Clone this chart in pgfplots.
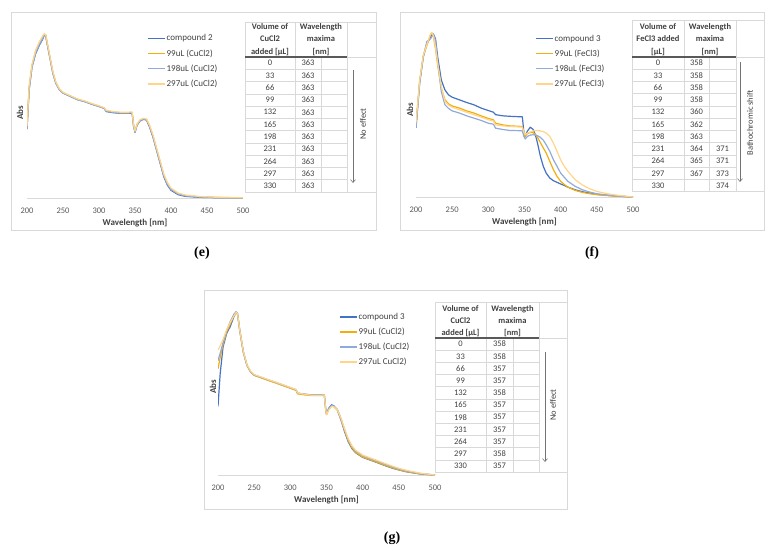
\documentclass[border=0pt]{standalone}
\usepackage{pgfplots}
\pgfplotsset{compat=1.18}
\usepackage{pgfplotstable}
\usepackage{fontspec}
\setmainfont{Carlito}
\newfontfamily\labfont{Liberation Serif}
\usetikzlibrary{arrows.meta}

\definecolor{cpd}{HTML}{4472C4}
\definecolor{ora}{HTML}{F2AE0C}
\definecolor{lblue}{HTML}{8FAADC}
\definecolor{lora}{HTML}{FFD58A}
\definecolor{gridc}{HTML}{D9D9D9}
\definecolor{txt}{HTML}{595959}
\definecolor{dtxt}{HTML}{404040}

% panel (e): compound 2 + CuCl2
\pgfplotstableread{
x    c0     c1     c2     c3
200  0.420  0.430  0.420  0.440
203  0.660  0.675  0.665  0.685
207  0.800  0.810  0.800  0.815
212  0.880  0.895  0.885  0.900
217  0.930  0.945  0.935  0.950
222  0.970  0.985  0.975  0.990
224  0.995  1.000  0.990  1.000
226  0.990  0.995  0.985  0.995
228  0.940  0.945  0.940  0.950
232  0.850  0.855  0.850  0.860
236  0.760  0.765  0.760  0.770
240  0.700  0.705  0.700  0.708
245  0.660  0.663  0.660  0.665
250  0.640  0.642  0.640  0.644
260  0.620  0.622  0.620  0.624
270  0.600  0.602  0.600  0.604
280  0.588  0.590  0.588  0.592
290  0.572  0.574  0.572  0.576
300  0.558  0.560  0.558  0.562
307  0.547  0.549  0.547  0.551
310  0.527  0.532  0.530  0.535
320  0.520  0.524  0.522  0.527
330  0.516  0.520  0.518  0.523
340  0.516  0.520  0.518  0.523
346  0.518  0.522  0.520  0.525
348  0.440  0.445  0.442  0.448
350  0.400  0.405  0.402  0.408
353  0.445  0.450  0.447  0.452
357  0.470  0.475  0.472  0.478
362  0.480  0.484  0.482  0.486
366  0.475  0.480  0.478  0.482
370  0.435  0.442  0.440  0.446
375  0.370  0.378  0.375  0.383
380  0.290  0.298  0.295  0.304
385  0.210  0.220  0.216  0.226
390  0.130  0.140  0.136  0.146
395  0.078  0.088  0.084  0.094
400  0.047  0.055  0.052  0.060
410  0.020  0.026  0.024  0.030
420  0.010  0.015  0.013  0.018
440  0.004  0.007  0.006  0.009
460  0.002  0.004  0.003  0.005
500  0.000  0.001  0.000  0.001
}\specE

% panel (f): compound 3 + FeCl3
\pgfplotstableread{
x    c0     c1     c2     c3
200  0.420  0.440  0.420  0.450
205  0.690  0.700  0.690  0.705
210  0.850  0.855  0.850  0.860
215  0.930  0.920  0.945  0.925
220  0.970  0.985  0.960  0.990
222  0.985  0.995  0.975  1.000
224  0.990  0.975  0.990  0.980
227  0.960  0.900  0.950  0.910
230  0.850  0.800  0.820  0.810
235  0.710  0.660  0.640  0.670
240  0.650  0.590  0.560  0.580
245  0.620  0.566  0.538  0.558
250  0.606  0.553  0.523  0.545
260  0.590  0.540  0.510  0.530
270  0.574  0.523  0.493  0.515
280  0.560  0.510  0.479  0.500
290  0.540  0.493  0.465  0.485
300  0.525  0.477  0.448  0.469
307  0.515  0.469  0.442  0.462
310  0.500  0.448  0.418  0.438
320  0.493  0.438  0.410  0.432
330  0.490  0.432  0.404  0.428
340  0.488  0.430  0.403  0.426
347  0.487  0.428  0.402  0.424
349  0.400  0.385  0.370  0.395
351  0.368  0.368  0.352  0.378
354  0.400  0.385  0.368  0.388
358  0.424  0.392  0.376  0.395
362  0.410  0.390  0.378  0.401
365  0.378  0.382  0.376  0.404
368  0.327  0.362  0.372  0.404
372  0.246  0.330  0.362  0.401
376  0.186  0.298  0.345  0.397
380  0.145  0.267  0.317  0.388
385  0.115  0.216  0.277  0.368
390  0.099  0.166  0.226  0.327
395  0.089  0.125  0.186  0.277
400  0.079  0.095  0.145  0.226
405  0.070  0.076  0.120  0.186
410  0.060  0.060  0.095  0.156
420  0.044  0.040  0.065  0.105
430  0.032  0.028  0.044  0.073
440  0.024  0.020  0.030  0.050
450  0.016  0.014  0.020  0.034
460  0.012  0.010  0.014  0.024
470  0.008  0.007  0.010  0.016
480  0.005  0.004  0.006  0.010
500  0.000  0.000  0.000  0.000
}\specF

% panel (g): compound 3 + CuCl2
\pgfplotstableread{
x    c0     c1     c2     c3
200  0.420  0.650  0.700  0.765
203  0.620  0.720  0.745  0.790
207  0.785  0.800  0.810  0.830
212  0.867  0.875  0.885  0.890
217  0.910  0.925  0.940  0.935
222  0.970  0.975  0.985  0.975
225  0.996  0.990  1.000  0.995
227  0.990  0.985  0.985  0.990
230  0.890  0.885  0.885  0.890
235  0.755  0.750  0.752  0.758
240  0.673  0.670  0.672  0.676
245  0.633  0.630  0.633  0.636
250  0.612  0.610  0.612  0.615
260  0.596  0.594  0.597  0.599
270  0.580  0.578  0.582  0.583
280  0.565  0.563  0.567  0.568
290  0.549  0.547  0.551  0.552
300  0.533  0.531  0.535  0.536
308  0.520  0.518  0.522  0.523
310  0.500  0.497  0.502  0.503
320  0.494  0.490  0.495  0.493
330  0.490  0.486  0.490  0.488
340  0.490  0.486  0.489  0.488
347  0.490  0.488  0.490  0.490
349  0.400  0.395  0.398  0.395
350  0.373  0.370  0.372  0.368
353  0.408  0.400  0.404  0.398
357  0.430  0.422  0.426  0.420
360  0.424  0.420  0.422  0.418
365  0.398  0.398  0.402  0.400
370  0.337  0.342  0.346  0.348
375  0.265  0.272  0.278  0.282
380  0.204  0.210  0.218  0.222
385  0.163  0.168  0.176  0.180
390  0.137  0.140  0.148  0.152
400  0.108  0.110  0.118  0.122
410  0.092  0.094  0.101  0.105
420  0.076  0.078  0.085  0.089
430  0.059  0.061  0.068  0.072
440  0.043  0.045  0.051  0.056
450  0.031  0.032  0.037  0.041
460  0.020  0.021  0.025  0.029
480  0.006  0.007  0.009  0.011
500  0.000  0.000  0.000  0.000
}\specG

\pgfplotsset{
  spec/.style={
    scale only axis,
    xmin=200, xmax=500, ymin=0, ymax=1.05,
    axis x line=bottom, axis y line=none,
    axis line style={draw=gridc, line width=0.8pt, -},
    xtick={200,250,...,500}, major tick length=0pt,
    /pgf/number format/assume math mode=true,
    xticklabel style={font=\fontsize{8.5}{10}\selectfont, text=txt, yshift=-6.5pt},
    xlabel={\textbf{Wavelength [nm]}},
    xlabel style={at={(axis description cs:0.5,0)}, anchor=center, yshift=-25pt,
      font=\fontsize{9}{10}\selectfont, text=dtxt},
    legend cell align=left,
    legend style={draw=none, fill=none, inner sep=0pt, row sep=5pt,
      font=\fontsize{9}{10}\selectfont, text=dtxt,
      nodes={inner sep=1pt}},
    legend image code/.code={\draw[##1, line width=1.6pt] (0pt,0pt) -- (17pt,0pt);},
    every axis plot/.append style={line width=1.2pt, line join=round},
  }
}

% table grid: col1 left, col1|2, col2|3, col3 right, frame right, y top, y header rule, y bottom
\newcommand{\tablegrid}[8]{%
  \draw[gridc, line width=0.6pt] (#1,#6) -- (#5,#6);
  \draw[gridc, line width=0.6pt] (#1,#8) -- (#5,#8);
  \draw[gridc, line width=0.6pt] (#4,#7) -- (#5,#7);
  \foreach \i in {1,...,10}
    \draw[gridc, line width=0.6pt] (#1,{#7+\i*(#8-#7)/11}) -- (#4,{#7+\i*(#8-#7)/11});
  \draw[gridc, line width=0.6pt] (#1,#6) -- (#1,#8);
  \draw[gridc, line width=0.6pt] (#2,#6) -- (#2,#8);
  \draw[gridc, line width=0.6pt] (#3,#7) -- (#3,#8);
  \draw[gridc, line width=0.6pt] (#4,#6) -- (#4,#8);
  \draw[black!65, line width=1.2pt] (#1,#7) -- (#4,#7);
}
% rows: x of col1, col2, col3 centres, y header rule, row pitch, list
\newcommand{\tablerows}[6]{%
  \foreach \a/\b/\c [count=\k] in {#6} {
    \node[tabtxt] at (#1,{#4+(\k-0.5)*#5}) {\a};
    \node[tabtxt] at (#2,{#4+(\k-0.5)*#5}) {\b};
    \node[tabtxt] at (#3,{#4+(\k-0.5)*#5}) {\c};
  }
}

\begin{document}
\begin{tikzpicture}[tabtxt/.style={font=\fontsize{8.5}{10}\selectfont, text=dtxt, inner sep=0pt},
  hdr/.style={font=\fontsize{8.5}{12.2}\selectfont\bfseries, text=dtxt, align=center, inner sep=0pt},
  note/.style={font=\fontsize{8.5}{10}\selectfont, text=dtxt, rotate=90, inner sep=0pt},
  abs/.style={font=\fontsize{9}{10}\selectfont\bfseries, text=dtxt, rotate=90, inner sep=0pt},
  lab/.style={font=\labfont\fontsize{14}{16}\selectfont\bfseries, inner sep=0pt}]
\path[use as bounding box] (0pt,0pt) rectangle (774pt,-551pt);

% ---------- (e)
\begin{axis}[spec, at={(27pt,-198pt)}, anchor=south west, width=216pt, height=172.2pt,
  legend style={at={(rel axis cs:0.555,0.955)}, anchor=north west}]
  \addplot[cpd] table[x=x, y=c0] {\specE};
  \addplot[ora] table[x=x, y=c1] {\specE};
  \addplot[lblue] table[x=x, y=c2] {\specE};
  \addplot[lora] table[x=x, y=c3] {\specE};
  \legend{compound 2, 99uL (CuCl2), 198uL (CuCl2), 297uL (CuCl2)}
\end{axis}

% ---------- (f)
\begin{axis}[spec, at={(416pt,-197pt)}, anchor=south west, width=217pt, height=172.9pt,
  legend style={at={(rel axis cs:0.548,0.945)}, anchor=north west}]
  \addplot[cpd] table[x=x, y=c0] {\specF};
  \addplot[ora] table[x=x, y=c1] {\specF};
  \addplot[lblue] table[x=x, y=c2] {\specF};
  \addplot[lora] table[x=x, y=c3] {\specF};
  \legend{compound 3, 99uL (FeCl3), 198uL (FeCl3), 297uL (FeCl3)}
\end{axis}

% ---------- (g)
\begin{axis}[spec, at={(218pt,-475pt)}, anchor=south west, width=217pt, height=171.5pt,
  legend style={at={(rel axis cs:0.557,0.952)}, anchor=north west}]
  \addplot[cpd] table[x=x, y=c0] {\specG};
  \addplot[ora] table[x=x, y=c1] {\specG};
  \addplot[lblue] table[x=x, y=c2] {\specG};
  \addplot[lora] table[x=x, y=c3] {\specG};
  \legend{compound 3, 99uL (CuCl2), 198uL (CuCl2), 297uL CuCl2)}
\end{axis}

\begin{scope}[x=1pt, y=-1pt]
  % frames
  \draw[gridc, line width=0.7pt] (11,12) rectangle (376,230);
  \draw[gridc, line width=0.7pt] (400,12) rectangle (764,230);
  \draw[gridc, line width=0.7pt] (204,290) rectangle (567,509);
  % Abs labels
  \node[abs] at (20,113) {Abs};
  \node[abs] at (410,110) {Abs};
  \node[abs] at (213,387) {Abs};

  % table (e)
  \tablegrid{245}{295}{321}{347}{376}{22}{57}{192}
  \node[hdr] at (270,39.5) {Volume of\\CuCl2\\added {[µL]}};
  \node[hdr] at (321,39.5) {Wavelength\\maxima\\{[nm]}};
  \tablerows{270}{308}{334}{57}{12.2727}{0/363/{},33/363/{},66/363/{},99/363/{},132/363/{},165/363/{},198/363/{},231/363/{},264/363/{},297/363/{},330/363/{}}
  \draw[black!55, line width=0.6pt, -{Straight Barb[length=3pt,width=5pt]}] (353,70) -- (353,183);
  \node[note] at (363,124) {No effect};

  % table (f)
  \tablegrid{632}{684}{709}{736}{764}{20}{57}{191.7}
  \node[hdr] at (658,39.5) {Volume of\\FeCl3 added\\{[µL]}};
  \node[hdr] at (710,39.5) {Wavelength\\maxima\\{[nm]}};
  \tablerows{658}{696.5}{722.5}{57}{12.245}{0/358/{},33/358/{},66/358/{},99/358/{},132/360/{},165/362/{},198/363/{},231/364/371,264/365/371,297/367/373,330/{}/374}
  \draw[black!55, line width=0.6pt, -{Straight Barb[length=3pt,width=5pt]}] (740,62) -- (740,182);
  \node[note] at (750,123) {Bathochromic shift};

  % table (g)
  \tablegrid{435}{486}{513}{539}{567}{302}{338}{472}
  \node[hdr] at (460.5,321) {Volume of\\CuCl2\\added {[µL]}};
  \node[hdr] at (512.5,321) {Wavelength\\maxima\\{[nm]}};
  \tablerows{460.5}{499.5}{526}{338}{12.1818}{0/358/{},33/358/{},66/357/{},99/357/{},132/358/{},165/357/{},198/357/{},231/357/{},264/357/{},297/358/{},330/357/{}}
  \draw[black!55, line width=0.6pt, -{Straight Barb[length=3pt,width=5pt]}] (545,352) -- (545,462);
  \node[note] at (553,405) {No effect};

  % panel labels
  \node[lab] at (202,253) {(e)};
  \node[lab] at (592,253) {(f)};
  \node[lab] at (392,538) {(g)};
\end{scope}
\end{tikzpicture}
\end{document}
